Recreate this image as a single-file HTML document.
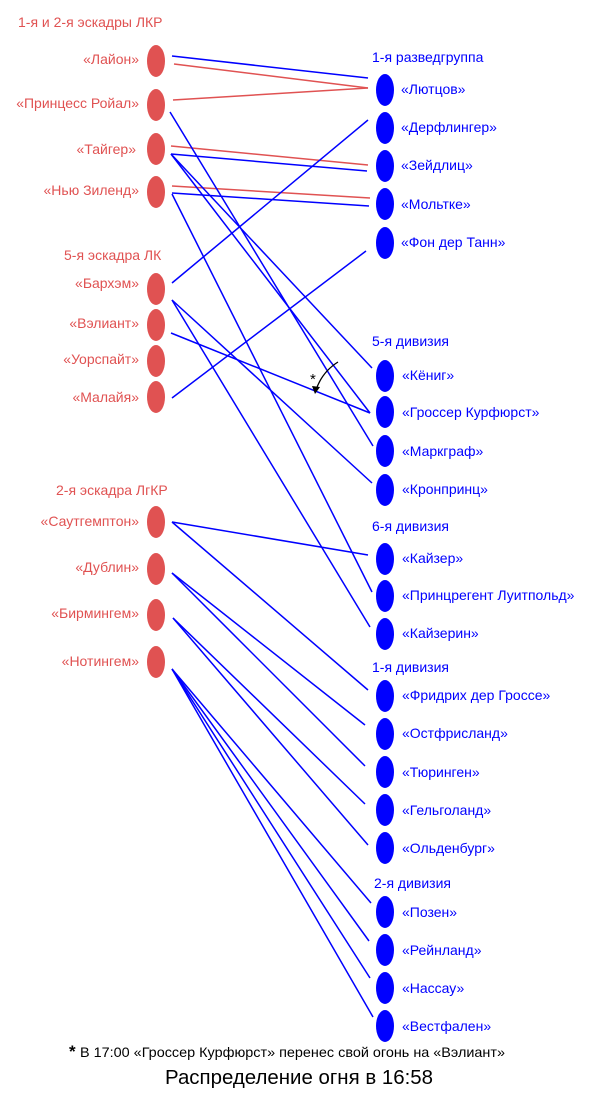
<!DOCTYPE html>
<html><head><meta charset="utf-8"><style>
html,body{margin:0;padding:0;background:#fff;}
svg{display:block;font-family:"Liberation Sans",sans-serif;}
.r{fill:#e05252;font-size:14px;}
.b{fill:#0000ff;font-size:14px;}
</style></head><body>
<svg width="600" height="1093" viewBox="0 0 600 1093" xmlns="http://www.w3.org/2000/svg">
<g fill="none" stroke-width="1.5">
<g stroke="#e05252">
<line x1="174" y1="64" x2="368" y2="88"/>
<line x1="173" y1="100" x2="368" y2="88"/>
<line x1="171" y1="146" x2="368" y2="165"/>
<line x1="172" y1="186" x2="370" y2="198"/>
</g>
<g stroke="#0000ff">
<line x1="172" y1="56" x2="368" y2="78"/>
<line x1="170" y1="112" x2="373" y2="446"/>
<line x1="171" y1="154" x2="367" y2="171"/>
<line x1="171" y1="154" x2="372" y2="368"/>
<line x1="171" y1="154" x2="370" y2="413"/>
<line x1="172" y1="193" x2="369" y2="206"/>
<line x1="172" y1="194" x2="372" y2="592"/>
<line x1="172" y1="283" x2="368" y2="120"/>
<line x1="172" y1="300" x2="372" y2="483"/>
<line x1="172" y1="300" x2="370" y2="627"/>
<line x1="171" y1="333" x2="370" y2="413"/>
<line x1="172" y1="398" x2="366" y2="251"/>
<line x1="172" y1="522" x2="368" y2="555"/>
<line x1="172" y1="522" x2="368" y2="690"/>
<line x1="172" y1="573" x2="365" y2="725"/>
<line x1="172" y1="573" x2="365" y2="766"/>
<line x1="173" y1="618" x2="365" y2="804"/>
<line x1="173" y1="618" x2="368" y2="845"/>
<line x1="172" y1="669" x2="371" y2="903"/>
<line x1="172" y1="669" x2="369" y2="941"/>
<line x1="172" y1="669" x2="370" y2="978"/>
<line x1="172" y1="669" x2="373" y2="1017"/>
</g>
<path d="M338 362 Q322 372 316 390" stroke="#000" stroke-width="1.3"/>
</g>
<polygon points="312,386 320,387 315,394" fill="#000"/>
<text x="310" y="384" font-size="15" fill="#000">*</text>

<g fill="#e05252">
<ellipse cx="156" cy="61" rx="9" ry="16"/>
<ellipse cx="156" cy="105" rx="9" ry="16"/>
<ellipse cx="156" cy="149" rx="9" ry="16"/>
<ellipse cx="156" cy="192" rx="9" ry="16"/>
<ellipse cx="156" cy="289" rx="9" ry="16"/>
<ellipse cx="156" cy="325" rx="9" ry="16"/>
<ellipse cx="156" cy="361" rx="9" ry="16"/>
<ellipse cx="156" cy="397" rx="9" ry="16"/>
<ellipse cx="156" cy="522" rx="9" ry="16"/>
<ellipse cx="156" cy="569" rx="9" ry="16"/>
<ellipse cx="156" cy="615" rx="9" ry="16"/>
<ellipse cx="156" cy="662" rx="9" ry="16"/>
</g>
<g fill="#0000ff">
<ellipse cx="385" cy="90" rx="9" ry="16"/>
<ellipse cx="385" cy="128" rx="9" ry="16"/>
<ellipse cx="385" cy="166" rx="9" ry="16"/>
<ellipse cx="385" cy="204" rx="9" ry="16"/>
<ellipse cx="385" cy="243" rx="9" ry="16"/>
<ellipse cx="385" cy="376" rx="9" ry="16"/>
<ellipse cx="385" cy="412" rx="9" ry="16"/>
<ellipse cx="385" cy="451" rx="9" ry="16"/>
<ellipse cx="385" cy="490" rx="9" ry="16"/>
<ellipse cx="385" cy="559" rx="9" ry="16"/>
<ellipse cx="385" cy="596" rx="9" ry="16"/>
<ellipse cx="385" cy="634" rx="9" ry="16"/>
<ellipse cx="385" cy="696" rx="9" ry="16"/>
<ellipse cx="385" cy="734" rx="9" ry="16"/>
<ellipse cx="385" cy="772" rx="9" ry="16"/>
<ellipse cx="385" cy="810" rx="9" ry="16"/>
<ellipse cx="385" cy="848" rx="9" ry="16"/>
<ellipse cx="385" cy="912" rx="9" ry="16"/>
<ellipse cx="385" cy="950" rx="9" ry="16"/>
<ellipse cx="385" cy="988" rx="9" ry="16"/>
<ellipse cx="385" cy="1026" rx="9" ry="16"/>
</g>

<g class="r">
<text x="18" y="27">1-я и 2-я эскадры ЛКР</text>
<text x="64" y="260">5-я эскадра ЛК</text>
<text x="56" y="495">2-я эскадра ЛгКР</text>
</g>
<g class="r" text-anchor="end">
<text x="139" y="64">«Лайон»</text>
<text x="139" y="108">«Принцесс Ройал»</text>
<text x="136" y="154">«Тайгер»</text>
<text x="139" y="195">«Нью Зиленд»</text>
<text x="139" y="288">«Бархэм»</text>
<text x="139" y="328">«Вэлиант»</text>
<text x="139" y="364">«Уорспайт»</text>
<text x="139" y="402">«Малайя»</text>
<text x="139" y="526">«Саутгемптон»</text>
<text x="139" y="572">«Дублин»</text>
<text x="139" y="618">«Бирмингем»</text>
<text x="139" y="666">«Нотингем»</text>
</g>
<g class="b">
<text x="372" y="62">1-я разведгруппа</text>
<text x="372" y="346">5-я дивизия</text>
<text x="372" y="531">6-я дивизия</text>
<text x="372" y="672">1-я дивизия</text>
<text x="374" y="888">2-я дивизия</text>
</g>
<g class="b">
<text x="401" y="94">«Лютцов»</text>
<text x="401" y="132">«Дерфлингер»</text>
<text x="401" y="170">«Зейдлиц»</text>
<text x="401" y="209">«Мольтке»</text>
<text x="401" y="247">«Фон дер Танн»</text>
<text x="402" y="380">«Кёниг»</text>
<text x="402" y="417">«Гроссер Курфюрст»</text>
<text x="402" y="456">«Маркграф»</text>
<text x="402" y="494">«Кронпринц»</text>
<text x="402" y="563">«Кайзер»</text>
<text x="402" y="600">«Принцрегент Луитпольд»</text>
<text x="402" y="638">«Кайзерин»</text>
<text x="402" y="700">«Фридрих дер Гроссе»</text>
<text x="402" y="738">«Остфрисланд»</text>
<text x="402" y="777">«Тюринген»</text>
<text x="402" y="815">«Гельголанд»</text>
<text x="402" y="853">«Ольденбург»</text>
<text x="402" y="917">«Позен»</text>
<text x="402" y="955">«Рейнланд»</text>
<text x="402" y="993">«Нассау»</text>
<text x="402" y="1031">«Вестфален»</text>
</g>
<text x="69" y="1057" font-size="17" font-weight="bold" fill="#000">*</text>
<text x="80" y="1057" font-size="14" fill="#000" textLength="425" lengthAdjust="spacingAndGlyphs">В 17:00 «Гроссер Курфюрст» перенес свой огонь на «Вэлиант»</text>
<text x="165" y="1084" font-size="20" fill="#000" textLength="268" lengthAdjust="spacingAndGlyphs">Распределение огня в 16:58</text>
</svg>
</body></html>
